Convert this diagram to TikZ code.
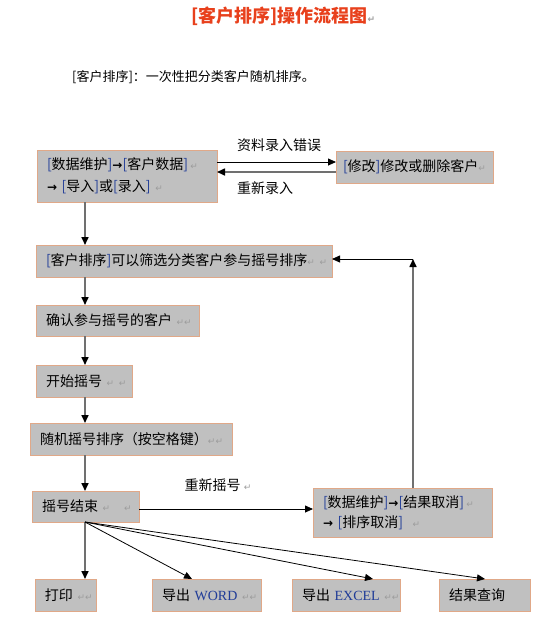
\documentclass[tikz,border=0pt]{standalone}
\usepackage{fontspec}
\setmainfont{Noto Sans CJK SC}
\newfontfamily\dejavu{DejaVu Sans}
\newfontfamily\lserif{Liberation Serif}
\usetikzlibrary{arrows.meta}
\definecolor{boxfill}{HTML}{C0C0C0}
\definecolor{boxline}{HTML}{E0A888}
\definecolor{brk}{HTML}{203C98}
\definecolor{titlered}{HTML}{E8401C}
\definecolor{retgray}{HTML}{9C9C9C}
\definecolor{lgray}{HTML}{707070}
\newcommand\rmk{{\dejavu\fontsize{9}{9}\selectfont\textcolor{retgray}{↵}}}
\newcommand\lb{\textcolor{brk}{[}}
\newcommand\rb{\textcolor{brk}{]}}
\newcommand\rarr{{\dejavu\bfseries\fontsize{12}{12}\selectfont →}}
\newcommand\oneline[1]{\mbox{#1}}
\tikzset{
  box/.style={draw=boxline, line width=0.9pt, fill=boxfill, anchor=north west,
    inner xsep=10pt, inner ysep=0pt, outer sep=0pt, align=left,
    font=\fontsize{14}{22}\selectfont},
  thinarrow/.style={draw=black, line width=0.8pt, -{Triangle[length=8pt,width=7pt]}},
  thickarrow/.style={draw=lgray, line width=1.6pt, -{Triangle[length=8pt,width=7pt,color=black]}},
  lbl/.style={font=\fontsize{14}{14}\selectfont, inner sep=0pt}
}
\begin{document}
\begin{tikzpicture}[x=1pt,y=-1pt]
\useasboundingbox (0,0) rectangle (548,619);
% title and subtitle
\node[anchor=west, inner sep=0pt, text=titlered, font=\bfseries\fontsize{18}{18}\selectfont] (title) at (191,16) {[客户排序]操作流程图\rmk};
\node[anchor=west, inner sep=0pt, font=\fontsize{13}{13}\selectfont] (sub) at (72,77) {[客户排序]：一次性把分类客户随机排序。};
% boxes
\node[box, text width=160pt, minimum height=52pt] (b1) at (37,150) {\oneline{\lb 数据维护\rb\rarr\lb 客户数据\rb\,\rmk}\\\oneline{\rarr\ \lb 导入\rb 或\lb 录入\rb\ \rmk}};
\node[box, inner xsep=7pt, text width=143pt, minimum height=32pt] (b2) at (336,151) {\oneline{\lb 修改\rb 修改或删除客户\rmk}};
\node[box, text width=276pt, minimum height=32pt] (b3) at (36,245) {\oneline{\lb 客户排序\rb 可以筛选分类客户参与摇号排序\rmk\ \rmk}};
\node[box, text width=143pt, minimum height=31pt] (b4) at (36,305) {\oneline{确认参与摇号的客户\ \rmk\rmk}};
\node[box, text width=76pt, minimum height=32pt] (b5) at (36,365) {\oneline{开始摇号\ \rmk\ \rmk}};
\node[box, text width=182pt, minimum height=32pt] (b6) at (30,423) {\oneline{随机摇号排序（按空格键）\rmk\rmk}};
\node[box, text width=87pt, minimum height=31pt] (b7) at (32,491) {\oneline{摇号结束\ \rmk\ \ \ \rmk}};
\node[box, text width=159pt, minimum height=49pt, font=\fontsize{14}{20}\selectfont] (b8) at (313,488) {\oneline{\lb 数据维护\rb\rarr\lb 结果取消\rb\,\rmk}\\\oneline{\rarr\ \lb 排序取消\rb\ \ \rmk}};
\node[box, text width=41pt, minimum height=32pt] (p1) at (35,579) {\oneline{打印\ \rmk\rmk}};
\node[box, text width=89pt, minimum height=32pt] (p2) at (152,579) {\oneline{导出 {\lserif\textcolor{brk}{WORD}}\ \rmk\rmk}};
\node[box, text width=88pt, minimum height=32pt] (p3) at (292,579) {\oneline{导出 {\lserif\textcolor{brk}{EXCEL}}\ \rmk\rmk}};
\node[box, text width=71pt, minimum height=32pt] (p4) at (439,579) {\oneline{结果查询}};
% helper coordinates
\coordinate (xa) at (85,0);
\coordinate (ya) at (0,162);
\coordinate (yb) at (0,172);
\coordinate (yc) at (0,509);
\coordinate (corner) at (413,259);
\coordinate (t2) at (192,0);
\coordinate (t3) at (373,0);
\coordinate (t4) at (485,0);
% connectors
\draw[thinarrow] (b1.east |- ya) -- (b2.west |- ya);
\draw[thickarrow] (b2.west |- yb) -- (b1.east |- yb);
\node[lbl] (l1) at (279,145) {资料录入错误};
\node[lbl] (l2) at (265,188) {重新录入};
\draw[thickarrow] (b1.south -| xa) -- (b3.north -| xa);
\draw[thickarrow] (b3.south -| xa) -- (b4.north -| xa);
\draw[thickarrow] (b4.south -| xa) -- (b5.north -| xa);
\draw[thickarrow] (b5.south -| xa) -- (b6.north -| xa);
\draw[thickarrow] (b6.south -| xa) -- (b7.north -| xa);
\draw[thinarrow] (b7.east |- yc) -- (b8.west |- yc);
\node[lbl] (l3) at (218,485) {重新摇号\ \rmk};
\draw[thickarrow] (b8.north -| corner) -- (corner);
\draw[thinarrow] (corner) -- (b3.east |- corner);
\draw[thickarrow] (b7.south -| xa) -- (p1.north -| xa);
\draw[thinarrow] (b7.south -| xa) -- (p2.north -| t2);
\draw[thinarrow] (b7.south -| xa) -- (p3.north -| t3);
\draw[thinarrow] (b7.south -| xa) -- (p4.north -| t4);
\end{tikzpicture}
\end{document}
